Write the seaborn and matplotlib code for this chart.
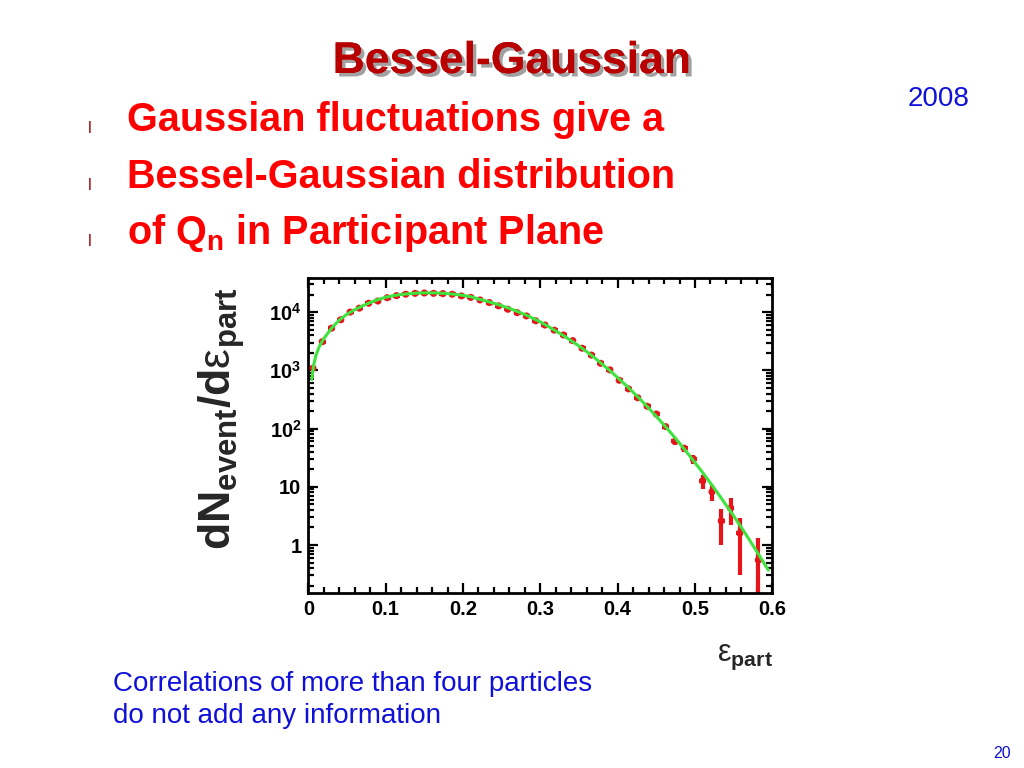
import matplotlib
matplotlib.use('Agg')
import matplotlib.pyplot as plt
import matplotlib.patheffects as pe
from matplotlib.ticker import FixedLocator, FixedFormatter, MultipleLocator, LogLocator, NullFormatter
import pandas as pd
import seaborn as sns

# histogram of participant eccentricity (bin centres, counts, errors)
eps_bins = [0.006, 0.018, 0.030, 0.042, 0.054, 0.066, 0.078, 0.090, 0.102, 0.114,
            0.126, 0.138, 0.150, 0.162, 0.174, 0.186, 0.198, 0.210, 0.222, 0.234,
            0.246, 0.258, 0.270, 0.282, 0.294, 0.306, 0.318, 0.330, 0.342, 0.354,
            0.366, 0.378, 0.390, 0.402, 0.414, 0.426, 0.438, 0.450, 0.462, 0.474,
            0.486, 0.498, 0.510, 0.522, 0.534, 0.546, 0.558, 0.582]
counts = [1090, 3100, 5300, 7400, 10000, 11700, 14200, 15500, 17700, 19200,
          20300, 21000, 21300, 21000, 20800, 20300, 19000, 17900, 16200, 14600,
          12800, 11200, 9800, 8600, 7100, 6000, 4900, 4050, 3240, 2400,
          1830, 1320, 1020, 675, 480, 338, 242, 178, 108, 60,
          46, 30, 12.7, 8.2, 2.6, 4.3, 1.6, 0.55]
count_err = [33, 56, 73, 86, 100, 108, 119, 125, 133, 139,
             142, 145, 146, 145, 144, 142, 138, 134, 127, 121,
             113, 106, 99, 93, 84, 77, 70, 64, 57, 49,
             43, 36, 32, 26, 22, 18, 16, 13, 10, 8,
             7, 5.5, 3.5, 2.5, 1.6, 2.1, 1.3, 0.77]

# Bessel-Gaussian fit curve
fit_eps = [0.0045, 0.007, 0.01, 0.015, 0.02, 0.03, 0.04, 0.05, 0.06, 0.07, 0.08,
           0.09, 0.10, 0.11, 0.12, 0.13, 0.14, 0.15, 0.16, 0.17, 0.18, 0.19, 0.20,
           0.21, 0.22, 0.23, 0.24, 0.25, 0.26, 0.27, 0.28, 0.29, 0.30, 0.31, 0.32,
           0.33, 0.34, 0.35, 0.36, 0.37, 0.38, 0.39, 0.40, 0.41, 0.42, 0.43, 0.44,
           0.45, 0.46, 0.47, 0.48, 0.49, 0.50, 0.51, 0.52, 0.53, 0.54, 0.55, 0.56,
           0.57, 0.58, 0.59, 0.595]
fit_vals = [700, 1250, 1850, 2700, 3500, 5300, 7300, 9200, 11000, 12800, 14600,
            16400, 18000, 19200, 20100, 20700, 21200, 21400, 21400, 21200, 20800, 20200, 19400,
            18400, 16800, 15500, 14200, 12900, 11600, 10300, 9100, 7900, 6800, 5700, 4750,
            3950, 3220, 2620, 2090, 1650, 1280, 990, 750, 566, 421, 310, 225,
            162, 115, 81, 56, 38.5, 26, 17.5, 11.6, 7.6, 4.9, 3.16, 2.0,
            1.25, 0.77, 0.47, 0.37]

xticks = [0, 0.1, 0.2, 0.3, 0.4, 0.5, 0.6]
xtick_labels = ['0', '0.1', '0.2', '0.3', '0.4', '0.5', '0.6']
yticks = [1, 10, 100, 1000, 10000]
ytick_labels = ['1', '10', r'$\mathbf{10^{2}}$', r'$\mathbf{10^{3}}$', r'$\mathbf{10^{4}}$']

bullets = ['Gaussian fluctuations give a',
           'Bessel-Gaussian distribution',
           r'of Q$_\mathbf{n}$ in Participant Plane']

sns.set_style('ticks')
plt.rcParams['font.family'] = ['Liberation Sans', 'DejaVu Sans']
plt.rcParams['mathtext.fontset'] = 'custom'
plt.rcParams['mathtext.rm'] = 'Liberation Sans'
plt.rcParams['mathtext.it'] = 'Liberation Sans:italic'
plt.rcParams['mathtext.bf'] = 'Liberation Sans:bold'

fig = plt.figure(figsize=(10.24, 7.68), dpi=100)
fig.patch.set_facecolor('white')

ax = fig.add_axes([0.3011, 0.2279, 0.4531, 0.4105])
ax.set_facecolor('white')
ax.set_yscale('log')

red = '#e8141c'
green = '#3ee33e'

ax.errorbar(eps_bins, counts, yerr=count_err, xerr=0.0045, fmt='none',
            ecolor=red, elinewidth=3.0, capsize=0, zorder=2)
df = pd.DataFrame({'eps': eps_bins, 'n': counts})
sns.scatterplot(data=df, x='eps', y='n', color=red, s=26, edgecolor='none',
                ax=ax, zorder=3, legend=False)
fit_df = pd.DataFrame({'eps': fit_eps, 'n': fit_vals})
sns.lineplot(data=fit_df, x='eps', y='n', color=green, linewidth=2.2,
             ax=ax, zorder=4, legend=False)

ax.set_xlim(0, 0.6)
ax.set_ylim(0.15, 3.9e4)
ax.xaxis.set_major_locator(FixedLocator(xticks))
ax.xaxis.set_major_formatter(FixedFormatter(xtick_labels))
ax.xaxis.set_minor_locator(MultipleLocator(0.02))
ax.yaxis.set_major_locator(FixedLocator(yticks))
ax.yaxis.set_major_formatter(FixedFormatter(ytick_labels))
ax.yaxis.set_minor_locator(LogLocator(base=10, subs=range(2, 10)))
ax.yaxis.set_minor_formatter(NullFormatter())

for s in ax.spines.values():
    s.set_linewidth(2.0)
    s.set_color('black')
ax.tick_params(which='both', direction='in', top=True, right=True, width=1.6,
               colors='black')
ax.tick_params(which='major', length=7, labelsize=14.5, pad=5)
ax.tick_params(which='minor', length=4)
for lab in ax.get_xticklabels() + ax.get_yticklabels():
    lab.set_fontweight('bold')
ax.set_xlabel('')
ax.set_ylabel('')

fig.text(0.216, 1 - 419 / 768, r'$\mathbf{dN_{event}/d\mathrm{\varepsilon}_{part}}$',
         rotation=90, ha='center', va='center', fontsize=32)
fig.text(0.755, 0.139, r'$\mathrm{\varepsilon}_{\mathbf{part}}$', ha='right',
         va='baseline', fontsize=22)

# slide texts
title = fig.text(0.5, 1 - 73 / 768, 'Bessel-Gaussian', ha='center', va='baseline',
                 fontsize=32, fontweight='bold', color='#b80000')
title.set_path_effects([pe.withSimplePatchShadow(offset=(2.5, -2.5),
                                                 shadow_rgbFace='#444444', alpha=0.5),
                        pe.Normal()])

for i, line in enumerate(bullets):
    base = 1 - (131 + 56.7 * i) / 768
    fig.text(127 / 1024, base, line, ha='left', va='baseline', fontsize=28.5,
             fontweight='bold', color='#ff0000')
    fig.text(88 / 1024, base - 2 / 768, 'l', ha='left', va='baseline', fontsize=12,
             color='#a01010')

fig.text(908 / 1024, 1 - 106 / 768, '2008', ha='left', va='baseline', fontsize=20,
         color='#1010d8')
fig.text(113 / 1024, 1 - 691 / 768, 'Correlations of more than four particles',
         ha='left', va='baseline', fontsize=20, color='#1010d8')
fig.text(113 / 1024, 1 - 723 / 768, 'do not add any information',
         ha='left', va='baseline', fontsize=20, color='#1010d8')
fig.text(1011 / 1024, 1 - 758 / 768, '20', ha='right', va='baseline', fontsize=11.5,
         color='#1010d8')

fig.savefig('out.png', dpi=100)
plt.close(fig)
